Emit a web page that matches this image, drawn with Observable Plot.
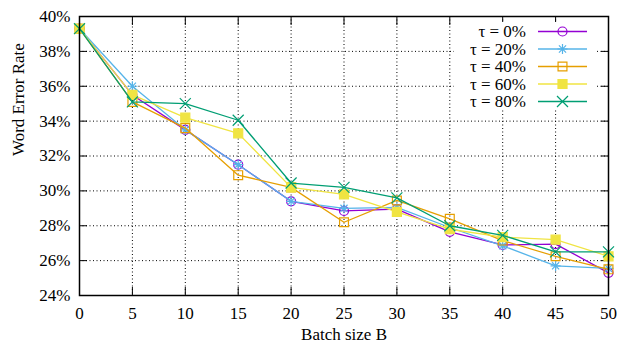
<!DOCTYPE html>
<html>
<head>
<meta charset="utf-8">
<script src="https://cdn.jsdelivr.net/npm/d3@7"></script>
<script src="https://cdn.jsdelivr.net/npm/@observablehq/plot@0.6"></script>
<style>
  html, body { margin: 0; padding: 0; background: white; }
  #chart { width: 618px; height: 345px; font-family: "Liberation Serif", serif; }
</style>
</head>
<body>
<div id="chart"></div>
<script>
// ---- data ----
const batchSizes = [0, 5, 10, 15, 20, 25, 30, 35, 40, 45, 50];
const seriesNames = ["τ = 0%", "τ = 20%", "τ = 40%", "τ = 60%", "τ = 80%"];
const tau0  = [39.3, 35.5, 33.5, 31.5, 29.4, 28.85, 28.95, 27.65, 26.9, 26.95, 25.3];
const tau20 = [39.3, 36.0, 33.5, 31.5, 29.4, 29.0, 29.05, 27.9, 26.85, 25.7, 25.55];
const tau40 = [39.3, 35.1, 33.6, 30.9, 30.2, 28.2, 29.45, 28.4, 27.15, 26.25, 25.5];
const tau60 = [39.3, 35.5, 34.2, 33.3, 30.2, 29.8, 28.8, 27.8, 27.35, 27.2, 26.25];
const tau80 = [39.3, 35.1, 35.0, 34.05, 30.45, 30.2, 29.6, 28.0, 27.45, 26.5, 26.5];
const xTicks = [0, 5, 10, 15, 20, 25, 30, 35, 40, 45, 50];
const yTicks = [24, 26, 28, 30, 32, 34, 36, 38, 40];
const xLabel = "Batch size B";
const yLabel = "Word Error Rate";

const colors = ["#9400d3", "#56b4e9", "#e69f00", "#f0e442", "#009e73"];
const allSeries = [tau0, tau20, tau40, tau60, tau80];

// gnuplot-style asterisk (+ and x)
const star = {
  draw(context, size) {
    const r = Math.sqrt(size / Math.PI) * 1.05;
    const d = r * Math.SQRT1_2;
    context.moveTo(-r, 0); context.lineTo(r, 0);
    context.moveTo(0, -r); context.lineTo(0, r);
    context.moveTo(-d, -d); context.lineTo(d, d);
    context.moveTo(-d, d); context.lineTo(d, -d);
  }
};
const symbols = ["circle", star, "square", "square", "times"];
const fills = ["none", "none", "none", "currentColor", "none"];
const radii = [4.5, 4.8, 5.0, 5.1, 5.06];

const rows = [];
allSeries.forEach((vals, i) => vals.forEach((v, j) => rows.push({x: batchSizes[j], y: v, s: i})));

const font = "Liberation Serif";
const marks = [
  Plot.gridX(xTicks, {stroke: "black", strokeOpacity: 1, strokeWidth: 1, strokeDasharray: "1,2.5"}),
  Plot.gridY(yTicks, {stroke: "black", strokeOpacity: 1, strokeWidth: 1, strokeDasharray: "1,2.5"}),
  Plot.axisX(xTicks, {anchor: "bottom", tickSize: -8, tickPadding: 19, label: null, fontSize: 17, fontFamily: font}),
  Plot.axisX(xTicks, {anchor: "top", tickSize: -8, text: null, label: null}),
  Plot.axisY(yTicks, {anchor: "left", tickSize: -8, tickPadding: 17, tickFormat: d => d + "%", label: null, fontSize: 17, fontFamily: font}),
  Plot.axisY(yTicks, {anchor: "right", tickSize: -8, text: null, label: null}),
];
allSeries.forEach((vals, i) => {
  const d = rows.filter(r => r.s === i);
  marks.push(Plot.line(d, {x: "x", y: "y", stroke: colors[i], strokeWidth: 1.3}));
  marks.push(Plot.dot(d, {
    x: "x", y: "y", symbol: () => symbols[i], r: radii[i],
    stroke: colors[i], strokeWidth: 1.2,
    fill: fills[i] === "none" ? "none" : colors[i]
  }));
});
marks.push(Plot.frame({stroke: "black", strokeWidth: 1.5}));
marks.push(Plot.text([xLabel], {frameAnchor: "bottom", dy: 44, fontSize: 17, fill: "black", fontFamily: font}));
marks.push(Plot.text([yLabel], {frameAnchor: "left", rotate: -90, dx: -61, fontSize: 17, fill: "black", fontFamily: font}));

const chart = Plot.plot({
  width: 618, height: 345,
  marginLeft: 79, marginRight: 10, marginTop: 16, marginBottom: 50,
  style: {fontFamily: font, fontSize: "17px", color: "black", background: "white", overflow: "visible"},
  x: {domain: [0, 50]},
  y: {domain: [24, 40]},
  symbol: {type: "identity"},
  marks
});
document.getElementById("chart").appendChild(chart);

// ---- legend (inside plot, top right) ----
const svg = d3.select(chart);
svg.attr("font-family", font);
const lg = svg.append("g").attr("font-family", font).attr("font-size", 17);
lg.append("rect").attr("x", 454).attr("y", 22).attr("width", 143).attr("height", 86).attr("fill", "white");
const rowY0 = 31.5, rowDy = 17.5;
seriesNames.forEach((name, i) => {
  const y = rowY0 + i * rowDy;
  lg.append("text").attr("x", 526).attr("y", y).attr("dy", "0.34em")
    .attr("text-anchor", "end").attr("fill", "black").text(name);
  lg.append("line").attr("x1", 538).attr("x2", 587).attr("y1", y).attr("y2", y)
    .attr("stroke", colors[i]).attr("stroke-width", 1.3);
  const symType = {circle: d3.symbolCircle, square: d3.symbolSquare, times: d3.symbolTimes}[symbols[i]] || symbols[i];
  const size = Math.PI * radii[i] * radii[i];
  lg.append("path").attr("transform", `translate(562.5,${y})`)
    .attr("d", d3.symbol(symType, size)())
    .attr("stroke", colors[i]).attr("stroke-width", 1.2)
    .attr("fill", fills[i] === "none" ? "none" : colors[i]);
});
// force the serif face on every text element
svg.selectAll("text").attr("font-family", font).style("font-family", `"${font}", serif`);
</script>
</body>
</html>
